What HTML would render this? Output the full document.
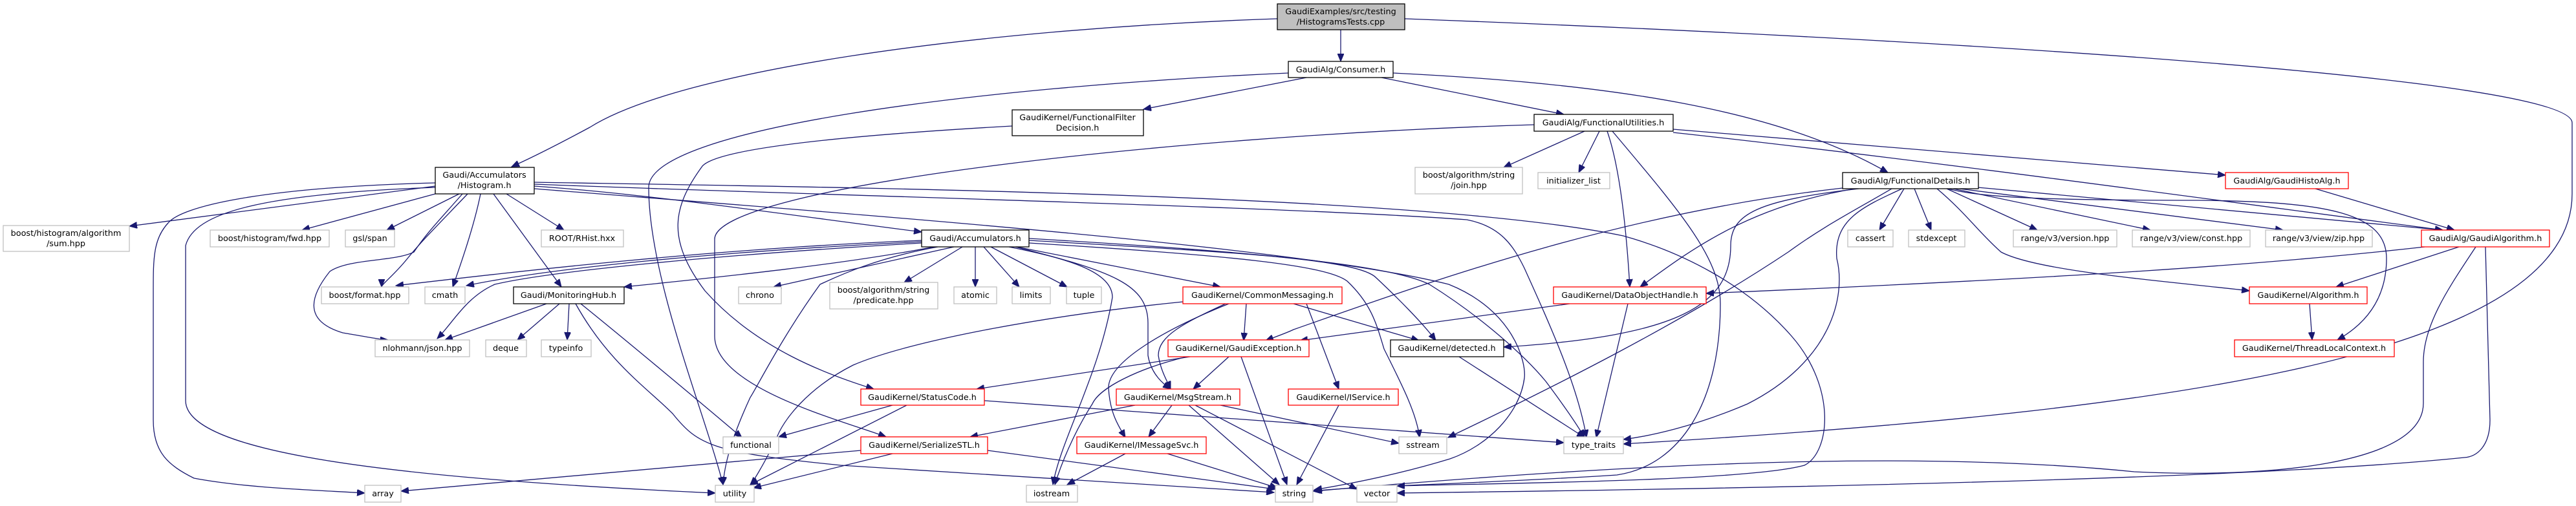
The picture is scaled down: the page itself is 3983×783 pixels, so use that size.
<!DOCTYPE html>
<html><head><meta charset="utf-8"><style>
html,body{margin:0;padding:0;background:#fff;}
svg{display:block;}
text{font-family:"DejaVu Sans","Liberation Sans",sans-serif;font-size:12.8px;fill:#000;text-anchor:middle;}
.e{fill:none;stroke:#191970;stroke-width:1.3;marker-end:url(#a);}
.k{fill:#fff;stroke:#000;stroke-width:1.3;}
.r{fill:#fff;stroke:#ff0000;stroke-width:1.3;}
.g{fill:#fff;stroke:#bfbfbf;stroke-width:1.3;}
</style></head><body>
<svg width="3983" height="783" viewBox="0 0 3983 783" xmlns="http://www.w3.org/2000/svg">
<defs><marker id="a" markerWidth="13" markerHeight="10" refX="12" refY="5" orient="auto" markerUnits="userSpaceOnUse"><path d="M0,0 L12,5 L0,10 z" fill="#191970" stroke="#191970"/></marker></defs>

<!-- edges -->
<path class="e" d="M2073,46 L2073,95"/>
<path class="e" d="M1975,29 C1500,45 1050,110 912,197 C860,225 820,245 791,258"/>
<path class="e" d="M2172,29 C3000,60 3977,120 3977,190 L3977,300 C3977,560 3300,640 2510,687"/>
<path class="e" d="M2020,120 L1768,169"/>
<path class="e" d="M1992,113 C1500,135 1003,200 1003,290 C1003,430 1090,640 1118,750"/>
<path class="e" d="M2136,120 L2418,177"/>
<path class="e" d="M2154,113 C2500,130 2750,170 2919,267"/>
<path class="e" d="M1565,195 C1300,210 1110,230 1086,257 C1040,320 1030,370 1090,450 C1170,540 1280,580 1351,602"/>
<path class="e" d="M2372,193 C1800,210 1105,290 1105,370 L1105,520 C1105,600 1300,650 1370,676"/>
<path class="e" d="M2450,203 L2325,259"/>
<path class="e" d="M2473,203 L2441,267"/>
<path class="e" d="M2485,203 C2505,260 2515,360 2520,444"/>
<path class="e" d="M2493,203 C2600,330 2660,400 2660,470 C2660,620 2600,720 2500,735 C2300,748 2100,752 2030,760"/>
<path class="e" d="M2587,200 L3441,271"/>
<path class="e" d="M2587,205 C3000,250 3500,320 3777,356"/>
<path class="e" d="M3749,382 C3500,410 3200,430 2638,454"/>
<path class="e" d="M3802,382 L3612,444"/>
<path class="e" d="M3828,382 C3790,440 3747,500 3747,560 L3747,624 C3747,720 3500,740 3300,730 C3000,700 2600,710 2032,760"/>
<path class="e" d="M3843,382 L3850,650 C3850,690 3830,707 3810,708 C3500,740 2800,755 2160,763"/>
<path class="e" d="M3580,292 L3795,356"/>
<path class="e" d="M3571,470 L3575,526"/>
<path class="e" d="M3058,290 L3777,356"/>
<path class="e" d="M3012,292 C3060,305 3150,310 3400,310 C3600,312 3690,330 3690,400 C3690,460 3660,500 3614,526"/>
<path class="e" d="M3010,292 L3150,356"/>
<path class="e" d="M3020,292 L3325,356"/>
<path class="e" d="M3030,292 L3530,356"/>
<path class="e" d="M2995,292 C3040,330 3060,360 3094,390 C3150,420 3350,435 3478,450"/>
<path class="e" d="M2944,292 L2906,356"/>
<path class="e" d="M2960,292 L2986,356"/>
<path class="e" d="M2868,292 C2700,320 2610,390 2536,444"/>
<path class="e" d="M2874,292 C2720,310 2676,330 2676,380 C2676,470 2600,520 2325,537"/>
<path class="e" d="M2849,291 C2500,330 2200,440 2000,510 C1990,515 1970,522 1957,527"/>
<path class="e" d="M2427,470 L2010,527"/>
<path class="e" d="M2925,292 C2860,330 2820,350 2765,390 C2600,500 2400,600 2239,677"/>
<path class="e" d="M2941,292 C2880,320 2835,340 2840,400 C2855,460 2830,560 2702,625 C2620,660 2550,675 2510,680"/>
<path class="e" d="M673,288 L200,350"/>
<path class="e" d="M673,300 L467,356"/>
<path class="e" d="M710,300 L598,356"/>
<path class="e" d="M723,300 C680,345 650,375 630,400 C610,425 590,440 590,444"/>
<path class="e" d="M715,300 C680,340 660,360 640,390 C610,405 540,400 510,420 C470,470 480,500 530,515 C560,520 590,526 600,526"/>
<path class="e" d="M743,300 C733,350 712,410 700,444"/>
<path class="e" d="M763,300 L868,444"/>
<path class="e" d="M783,300 L872,356"/>
<path class="e" d="M673,283 C400,290 280,320 260,345 C237,370 237,400 237,450 L237,650 C237,700 260,720 300,740 C380,755 480,758 564,763"/>
<path class="e" d="M673,290 C400,300 300,330 287,380 L287,620 C287,700 600,740 1106,763"/>
<path class="e" d="M826,288 C1000,300 1200,330 1425,359"/>
<path class="e" d="M826,285 C1200,300 2000,320 2268,340 C2320,350 2340,380 2357,415 C2400,510 2440,600 2453,677"/>
<path class="e" d="M826,282 C1300,290 2200,300 2510,365 C2600,390 2700,440 2770,520 C2840,600 2830,700 2790,720 C2700,745 2300,748 2160,752"/>
<path class="e" d="M826,292 C1300,330 2000,380 2240,440 C2340,480 2360,560 2357,585 C2350,640 2300,690 2242,710 C2160,735 2080,750 2032,758"/>
<path class="e" d="M1425,372 C1100,385 800,420 612,442"/>
<path class="e" d="M1425,374 C1100,390 850,415 721,442"/>
<path class="e" d="M1425,376 C1100,395 850,420 765,440 C720,460 700,500 676,524"/>
<path class="e" d="M1444,382 C1300,410 1100,430 965,444"/>
<path class="e" d="M1475,382 L1196,444"/>
<path class="e" d="M1450,382 C1350,400 1290,430 1268,440 C1210,520 1170,600 1160,615 C1130,680 1120,720 1118,750"/>
<path class="e" d="M1488,382 L1398,437"/>
<path class="e" d="M1508,382 L1508,444"/>
<path class="e" d="M1521,382 L1576,444"/>
<path class="e" d="M1532,382 L1650,444"/>
<path class="e" d="M1572,382 L1887,444"/>
<path class="e" d="M1560,382 C1650,400 1720,420 1720,460 C1700,580 1640,680 1628,750"/>
<path class="e" d="M1570,382 C1720,420 1775,440 1775,500 L1775,550 C1780,580 1800,595 1810,602"/>
<path class="e" d="M1591,372 C1900,390 2100,400 2128,430 C2160,460 2200,500 2220,527"/>
<path class="e" d="M1591,376 C1900,395 2050,410 2083,435 C2120,470 2128,500 2140,540 C2170,600 2190,640 2195,677"/>
<path class="e" d="M1591,369 C1950,390 2150,410 2210,440 C2290,490 2357,550 2390,590 C2420,630 2440,660 2450,677"/>
<path class="e" d="M845,470 L688,526"/>
<path class="e" d="M865,470 L800,526"/>
<path class="e" d="M880,470 L877,526"/>
<path class="e" d="M898,470 C960,520 1080,620 1147,677"/>
<path class="e" d="M890,470 C940,560 1000,600 1040,640 C1080,690 1102,700 1300,720 C1600,740 1800,750 1970,762"/>
<path class="e" d="M1829,467 C1600,490 1400,530 1319,565 C1250,600 1210,650 1200,680 C1180,720 1165,745 1160,750"/>
<path class="e" d="M1927,470 L1923,527"/>
<path class="e" d="M1895,470 C1830,500 1791,520 1791,550 C1795,575 1805,590 1810,602"/>
<path class="e" d="M1900,470 C1800,510 1714,560 1714,600 C1716,640 1730,660 1740,677"/>
<path class="e" d="M2000,470 L2194,527"/>
<path class="e" d="M2020,470 L2070,602"/>
<path class="e" d="M1840,552 L1510,602"/>
<path class="e" d="M1900,552 L1845,602"/>
<path class="e" d="M1835,552 C1760,570 1700,600 1689,625 C1660,670 1640,720 1631,750"/>
<path class="e" d="M1919,552 L1990,750"/>
<path class="e" d="M1380,627 L1204,676"/>
<path class="e" d="M1402,627 L1160,750"/>
<path class="e" d="M1522,620 L2418,685"/>
<path class="e" d="M1755,627 L1500,676"/>
<path class="e" d="M1812,627 L1776,676"/>
<path class="e" d="M1838,627 L1978,750"/>
<path class="e" d="M1848,627 L2098,757"/>
<path class="e" d="M1887,627 L2163,686"/>
<path class="e" d="M2070,627 L2005,750"/>
<path class="e" d="M1331,697 L620,760"/>
<path class="e" d="M1380,702 L1165,755"/>
<path class="e" d="M1527,697 L1972,757"/>
<path class="e" d="M1740,702 L1650,750"/>
<path class="e" d="M1805,702 L1975,755"/>
<path class="e" d="M2517,470 L2468,677"/>
<path class="e" d="M2256,552 L2450,677"/>

<!-- nodes -->
<rect class="k" x="1975" y="6" width="197" height="40" style="fill:#bfbfbf"/><text x="2073" y="22">GaudiExamples/src/testing</text><text x="2073" y="38">/HistogramsTests.cpp</text>
<rect class="k" x="1992" y="95" width="162" height="25"/><text x="2073" y="112">GaudiAlg/Consumer.h</text>
<rect class="k" x="1565" y="170" width="203" height="40"/><text x="1666" y="186">GaudiKernel/FunctionalFilter</text><text x="1666" y="202">Decision.h</text>
<rect class="k" x="2372" y="177" width="215" height="26"/><text x="2479" y="194">GaudiAlg/FunctionalUtilities.h</text>
<rect class="k" x="673" y="259" width="153" height="41"/><text x="749" y="275">Gaudi/Accumulators</text><text x="749" y="291">/Histogram.h</text>
<rect class="g" x="2188" y="259" width="166" height="41"/><text x="2271" y="275">boost/algorithm/string</text><text x="2271" y="291">/join.hpp</text>
<rect class="g" x="2378" y="267" width="111" height="25"/><text x="2433" y="284">initializer_list</text>
<rect class="k" x="2849" y="267" width="210" height="25"/><text x="2954" y="284">GaudiAlg/FunctionalDetails.h</text>
<rect class="r" x="3441" y="267" width="190" height="25"/><text x="3536" y="284">GaudiAlg/GaudiHistoAlg.h</text>
<rect class="g" x="5" y="349" width="195" height="40"/><text x="102" y="365">boost/histogram/algorithm</text><text x="102" y="381">/sum.hpp</text>
<rect class="g" x="325" y="356" width="184" height="26"/><text x="417" y="373">boost/histogram/fwd.hpp</text>
<rect class="g" x="534" y="356" width="76" height="26"/><text x="572" y="373">gsl/span</text>
<rect class="g" x="837" y="356" width="127" height="26"/><text x="900" y="373">ROOT/RHist.hxx</text>
<rect class="k" x="1425" y="356" width="166" height="26"/><text x="1508" y="373">Gaudi/Accumulators.h</text>
<rect class="g" x="2857" y="356" width="70" height="26"/><text x="2892" y="373">cassert</text>
<rect class="g" x="2951" y="356" width="87" height="26"/><text x="2994" y="373">stdexcept</text>
<rect class="g" x="3113" y="356" width="160" height="26"/><text x="3193" y="373">range/v3/version.hpp</text>
<rect class="g" x="3297" y="356" width="182" height="26"/><text x="3388" y="373">range/v3/view/const.hpp</text>
<rect class="g" x="3503" y="356" width="165" height="26"/><text x="3585" y="373">range/v3/view/zip.hpp</text>
<rect class="r" x="3744" y="356" width="198" height="26"/><text x="3843" y="373">GaudiAlg/GaudiAlgorithm.h</text>
<rect class="g" x="497" y="444" width="135" height="26"/><text x="564" y="461">boost/format.hpp</text>
<rect class="g" x="657" y="444" width="62" height="26"/><text x="688" y="461">cmath</text>
<rect class="k" x="794" y="444" width="171" height="26"/><text x="879" y="461">Gaudi/MonitoringHub.h</text>
<rect class="g" x="1142" y="444" width="66" height="26"/><text x="1175" y="461">chrono</text>
<rect class="g" x="1283" y="437" width="167" height="41"/><text x="1366" y="453">boost/algorithm/string</text><text x="1366" y="469">/predicate.hpp</text>
<rect class="g" x="1475" y="444" width="66" height="26"/><text x="1508" y="461">atomic</text>
<rect class="g" x="1565" y="444" width="59" height="26"/><text x="1594" y="461">limits</text>
<rect class="g" x="1649" y="444" width="54" height="26"/><text x="1676" y="461">tuple</text>
<rect class="r" x="1829" y="444" width="246" height="26"/><text x="1952" y="461">GaudiKernel/CommonMessaging.h</text>
<rect class="r" x="2402" y="444" width="236" height="26"/><text x="2520" y="461">GaudiKernel/DataObjectHandle.h</text>
<rect class="r" x="3478" y="444" width="182" height="26"/><text x="3569" y="461">GaudiKernel/Algorithm.h</text>
<rect class="g" x="580" y="526" width="146" height="26"/><text x="653" y="543">nlohmann/json.hpp</text>
<rect class="g" x="751" y="526" width="63" height="26"/><text x="782" y="543">deque</text>
<rect class="g" x="837" y="526" width="77" height="26"/><text x="875" y="543">typeinfo</text>
<rect class="r" x="1806" y="526" width="218" height="26"/><text x="1915" y="543">GaudiKernel/GaudiException.h</text>
<rect class="k" x="2150" y="526" width="175" height="26"/><text x="2237" y="543">GaudiKernel/detected.h</text>
<rect class="r" x="3455" y="526" width="247" height="26"/><text x="3578" y="543">GaudiKernel/ThreadLocalContext.h</text>
<rect class="r" x="1331" y="602" width="191" height="25"/><text x="1426" y="619">GaudiKernel/StatusCode.h</text>
<rect class="r" x="1726" y="602" width="191" height="25"/><text x="1821" y="619">GaudiKernel/MsgStream.h</text>
<rect class="r" x="1992" y="602" width="170" height="25"/><text x="2077" y="619">GaudiKernel/IService.h</text>
<rect class="g" x="1118" y="676" width="86" height="26"/><text x="1161" y="693">functional</text>
<rect class="r" x="1331" y="676" width="196" height="26"/><text x="1429" y="693">GaudiKernel/SerializeSTL.h</text>
<rect class="r" x="1665" y="676" width="200" height="26"/><text x="1765" y="693">GaudiKernel/IMessageSvc.h</text>
<rect class="g" x="2163" y="676" width="74" height="26"/><text x="2200" y="693">sstream</text>
<rect class="g" x="2418" y="676" width="92" height="26"/><text x="2464" y="693">type_traits</text>
<rect class="g" x="564" y="751" width="56" height="26"/><text x="592" y="768">array</text>
<rect class="g" x="1106" y="751" width="60" height="26"/><text x="1136" y="768">utility</text>
<rect class="g" x="1587" y="751" width="79" height="26"/><text x="1626" y="768">iostream</text>
<rect class="g" x="1972" y="751" width="58" height="26"/><text x="2001" y="768">string</text>
<rect class="g" x="2098" y="751" width="62" height="26"/><text x="2129" y="768">vector</text>
</svg>
</body></html>
